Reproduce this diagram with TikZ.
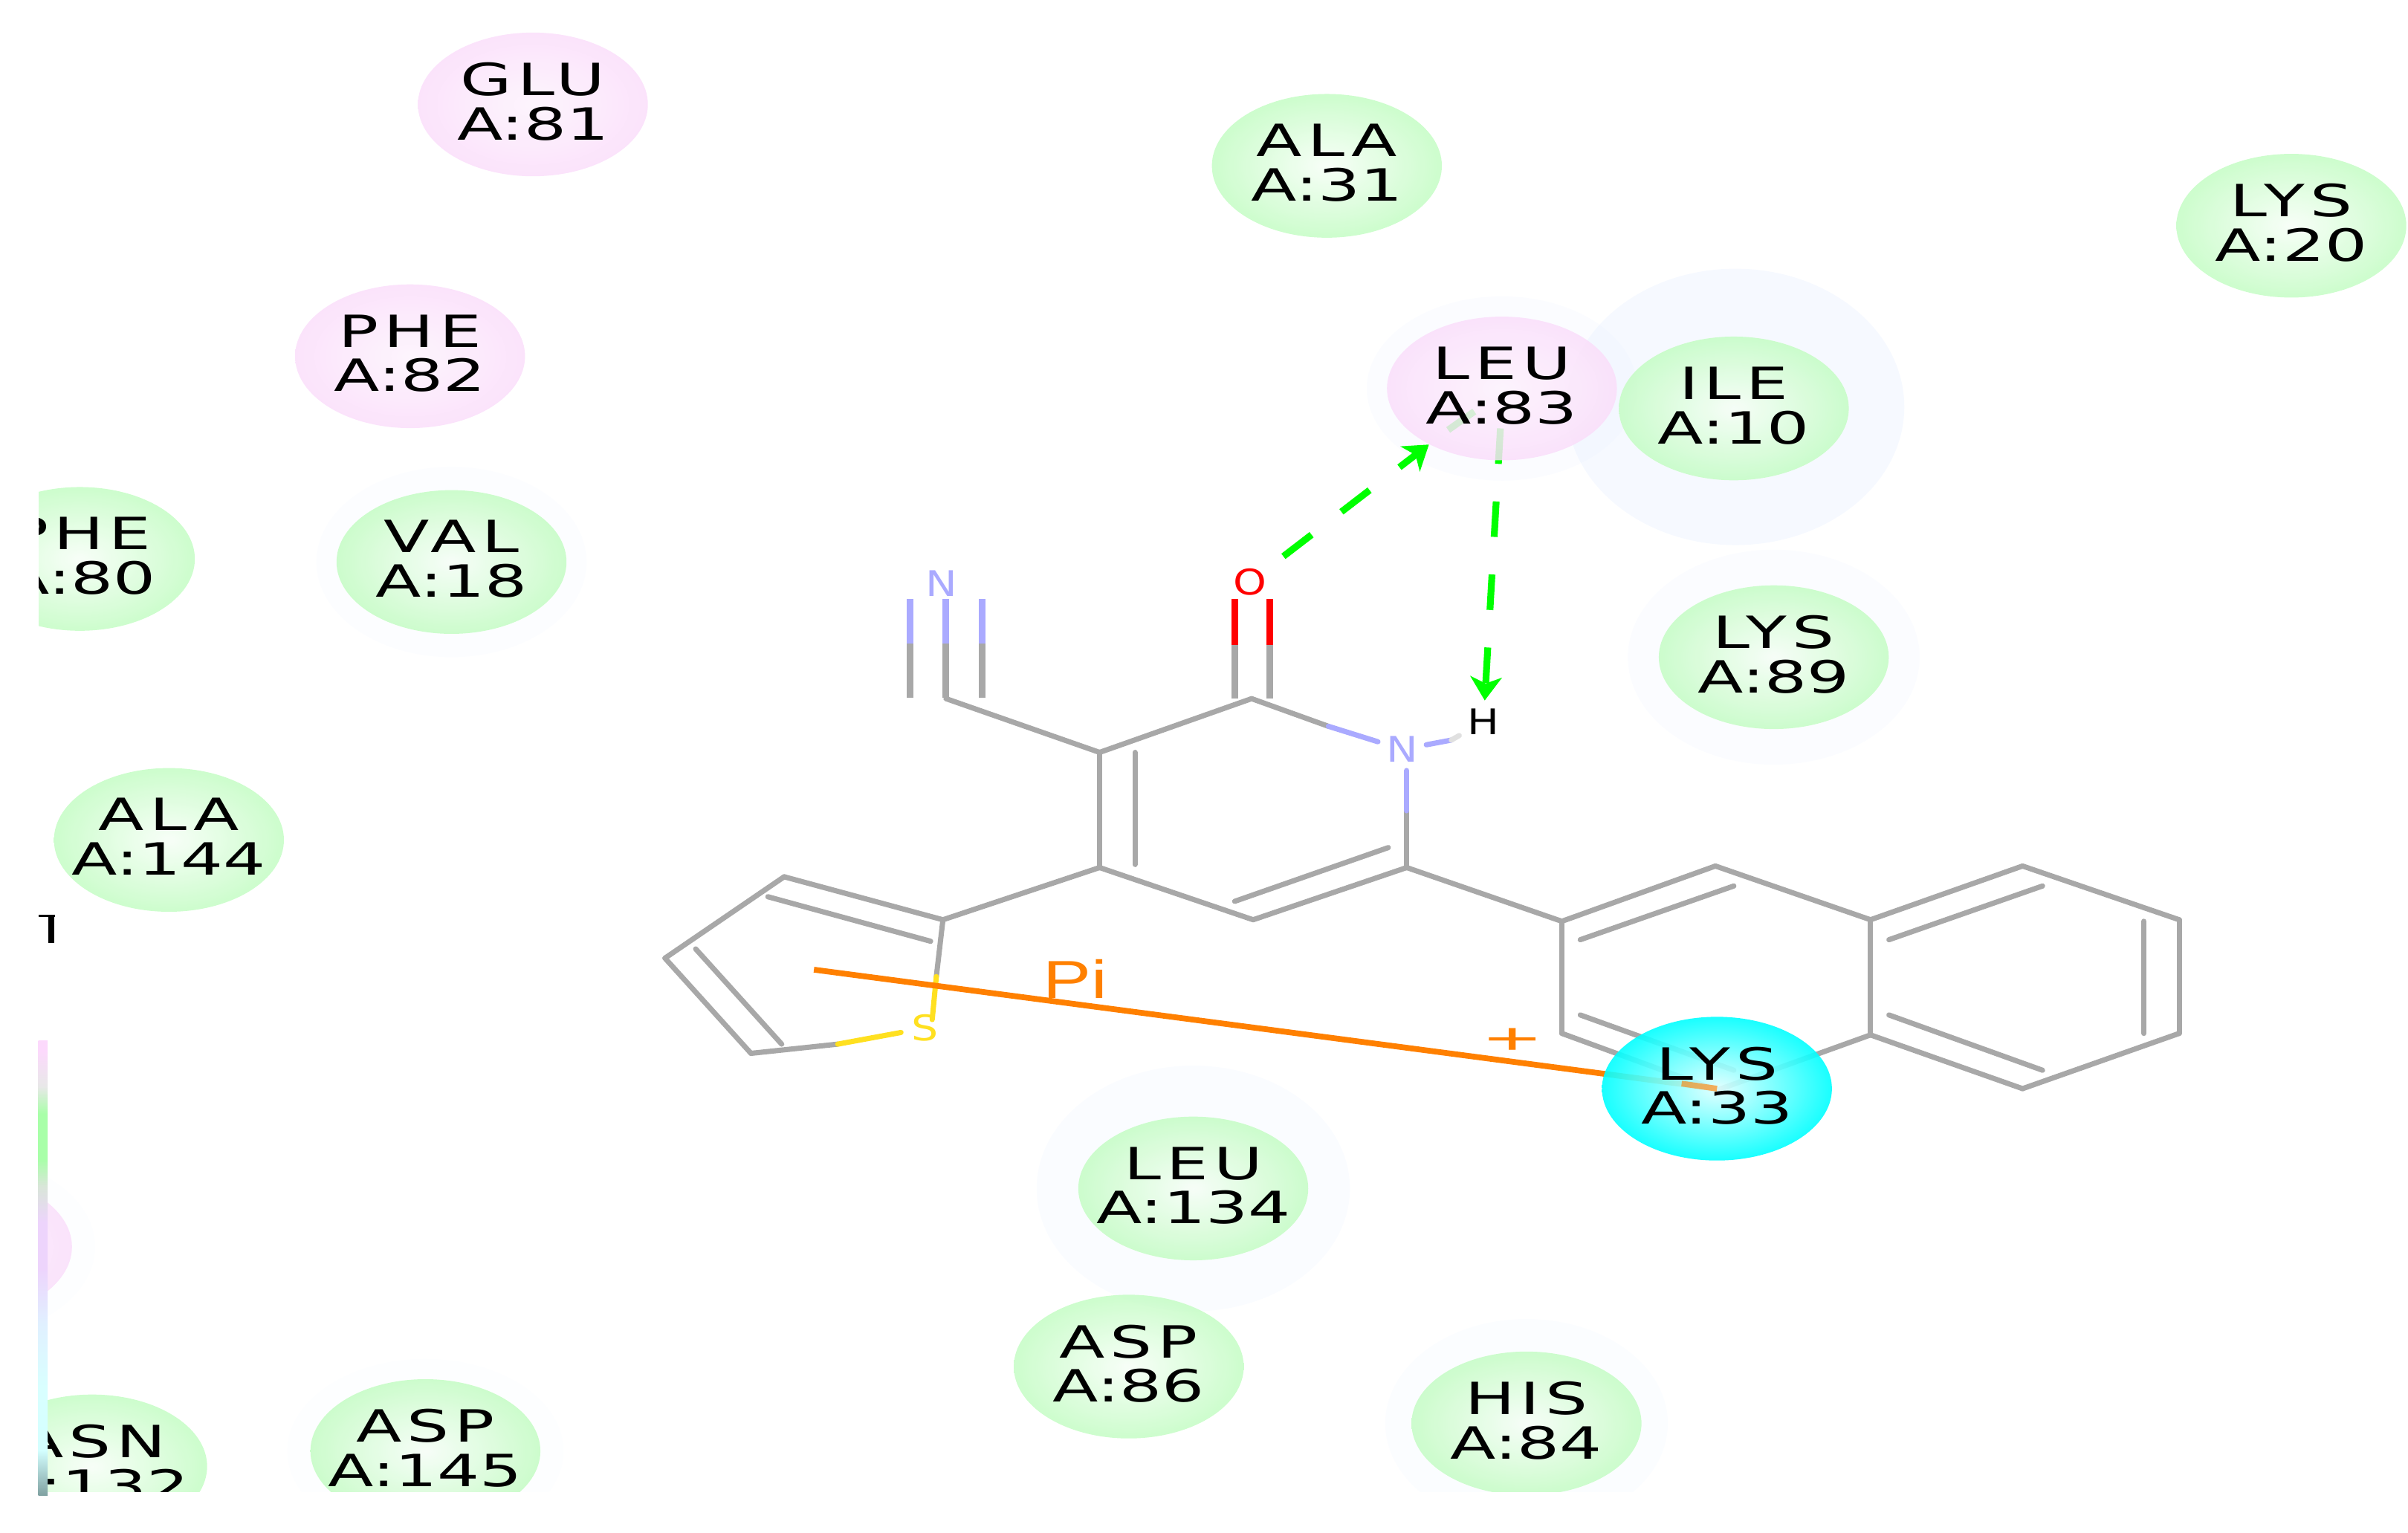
\documentclass[tikz,border=0pt]{standalone}
\usepackage{fontspec}
\usepackage{tikz}
\usetikzlibrary{arrows.meta,shapes.geometric}
\newfontfamily\resfont[FakeStretch=1.5]{DejaVu Sans}
\newfontfamily\resnamefont[FakeStretch=1.5,LetterSpace=12]{DejaVu Sans}
\newfontfamily\atomfont[FakeStretch=1.2]{DejaVu Sans}
\newfontfamily\pifont[FakeStretch=1.35]{Liberation Sans}
\definecolor{bondgray}{HTML}{A8A8A8}
\definecolor{nblue}{HTML}{AAAAFF}
\definecolor{oxred}{HTML}{FF0000}
\definecolor{syellow}{HTML}{FFE020}
\definecolor{hgreen}{HTML}{00FF00}
\definecolor{piorange}{HTML}{FF8000}
\definecolor{halocol}{HTML}{DCE8FF}
\definecolor{resgreen}{HTML}{C4FDC4}
\definecolor{respale}{HTML}{F6FEF6}
\definecolor{respink}{HTML}{FADEFA}
\definecolor{respalepink}{HTML}{FDF3FD}
\pgfdeclareverticalshading{legendbar}{100bp}{
	rgb(0bp)=(.50,.63,.63); rgb(25bp)=(.50,.63,.63);
	rgb(30bp)=(.83,1,1); rgb(37bp)=(.85,1,1); rgb(44bp)=(.88,.94,1);
	rgb(50bp)=(.93,.83,.99); rgb(55bp)=(.93,.83,.99);
	rgb(59bp)=(.85,.90,.85); rgb(62bp)=(.66,1,.66); rgb(67bp)=(.66,1,.66);
	rgb(70bp)=(.91,.91,.91); rgb(74bp)=(.99,.85,.99); rgb(75bp)=(.99,.85,.99);
	rgb(100bp)=(.99,.85,.99)}
\pgfdeclarelayer{halo}
\pgfdeclarelayer{back}
\pgfsetlayers{halo,back,main}
\tikzset{
	resnode/.style={ellipse,minimum width=88pt,minimum height=55pt,inner sep=-12pt,
		align=center,fill opacity=.85,text opacity=1,
		font=\resfont\fontsize{17}{17}\selectfont},
	greenres/.style={resnode,inner color=respale,outer color=resgreen},
	pinkres/.style={resnode,inner color=respalepink,outer color=respink},
	cyanres/.style={resnode,fill opacity=.9,inner color=cyan!12!white,outer color=cyan},
	atomlab/.style={inner sep=3pt,font=\atomfont\fontsize{13.5}{14}\selectfont},
	bond/.style={bondgray,line width=2pt,line cap=round},
	vbond/.style={bond,line width=2.5pt,line cap=butt},
	hbond/.style={hgreen,line width=2.6pt,dash pattern=on 13.6pt off 14.4pt,
		-{Stealth[length=9pt,width=12pt,inset=2.5pt]}},
	piline/.style={piorange,line width=2.2pt},
}
\newcommand{\reslabel}[2]{{\resnamefont #1}\\A:#2\rule[-2.4pt]{0pt}{0pt}}
\begin{document}
\begin{tikzpicture}[x=.5877pt,y=-.5877pt]
	\useasboundingbox (0,0) rectangle (1568,998);
	% halos
	\begin{pgfonlayer}{halo}
		\foreach \x/\y/\rx/\ry/\op in {1130/265/110/90/.25,978/253/88/60/.12,1155/428/95/70/.12,
			777/774/102/80/.14,994/927/92/68/.1,294/366/88/62/.08,277/945/90/60/.05,-28/812/90/60/.05}
			\fill [halocol,opacity=\op] (\x,\y) ellipse [x radius=\rx,y radius=\ry];
	\end{pgfonlayer}
	% residues
	\foreach \nm/\num/\x/\y in {ALA/31/864/108,LYS/20/1492/147,ILE/10/1129/266,
		PHE/80/52/364,VAL/18/294/366,LYS/89/1155/428,ALA/144/110/547,LEU/134/777/774,
		ASP/86/735/890,HIS/84/994/927,ASN/132/60/955,ASP/145/277/945}
		\node [greenres] (\nm\num) at (\x,\y) {\reslabel{\nm}{\num}};
	\foreach \nm/\num/\x/\y in {GLU/81/347/68,PHE/82/267/232,LEU/83/978/253}
		\node [pinkres] (\nm\num) at (\x,\y) {\reslabel{\nm}{\num}};
	\node [pinkres] (edgeres) at (-28,812) {};
	\node [cyanres] (LYS33) at (1118,709) {\reslabel{LYS}{33}};
	% atoms
	\node [atomlab,oxred] (atomO) at (814,379) {O};
	\node [atomlab,nblue] (atomN) at (913,488) {N};
	\node [atomlab,nblue] (atomNb) at (613,380) {N};
	\node [atomlab] (atomH) at (966,470) {H};
	\node [atomlab,syellow,inner sep=1pt] (atomS) at (602.5,669.5) {S};
	\node [font=\pifont\fontsize{20.5}{22}\selectfont,piorange,inner sep=0pt] (pilab) at (700,637.5) {Pi};
	\node [font=\pifont\fontsize{17}{18}\selectfont,piorange,inner sep=0pt] (pluslab) at (985,678) {\scalebox{1.6}[1]{+}};
	% molecule
	\begin{pgfonlayer}{back}
		% carbons
		\foreach \c/\x/\y in {c2/815/455,c3/716/490,c4/716/565,c5/816/599,c6/916/565,
			cn/616/455,t1/614/599,t2/510.6/571,t3/433/624,t4/489/686,
			a1/1017/600,a2/1117/564,a3/1218/599,a4/1218/674,a5/1118/710,a6/1017/673,
			b1/1317/564,b2/1419/599,b3/1419/673,b4/1317/709,pic/530/631.5,
			smid/609.7/636,stop/607/664,hstart/977/279,ofar/943/280,ofarb/960/268}
			\coordinate (\c) at (\x,\y);
		\foreach \a/\b in {c3/c2,c4/c5,c5/c6,c3/cn,c4/t1,t1/t2,t2/t3,t3/t4,c6/a1,
			a1/a2,a2/a3,a3/a4,a4/a5,a5/a6,a6/a1,a3/b1,b1/b2,b2/b3,b3/b4,b4/a4,c3/c4}
			\draw [bond] (\a) -- (\b);
		% inner lines of double bonds
		\foreach \xa/\ya/\xb/\yb in {739/490/739/563,804/587/904/552,500/584/606/613,
			453/618/509/680,1029/612/1129/577,1230/612/1330/577,1396/600/1396/673,
			1230/661/1330/697,1029/661/1129/697}
			\draw [bond] (\xa,\ya) -- (\xb,\yb);
		% hetero bonds
		\draw [bond] (c2) -- (865,473);
		\draw [bond,nblue] (865,473) -- (atomN);
		\draw [bond] (c6) -- (916,528);
		\draw [bond,nblue] (916,528) -- (c6 |- atomN.south);
		\draw [bond,nblue] (atomN) -- (945,482);
		\draw [bond,black!12] (945,482) -- (atomH);
		\foreach \d in {-11,12} {
			\draw [vbond] (815+\d,455) -- (815+\d,420);
			\draw [vbond,oxred] (815+\d,420) -- (815+\d,390);
		}
		\foreach \d in {592.5,616,639.5} {
			\draw [vbond] (\d,454.6) -- (\d,419);
			\draw [vbond,nblue] (\d,419) -- (\d,390);
		}
		\draw [bond] (t1) -- (smid);
		\draw [bond,syellow] (smid) -- (stop);
		\draw [bond] (t4) -- (545.5,680);
		\draw [bond,syellow,shorten >=3pt] (545.5,680) -- (atomS);
		% interactions
		\draw [hbond,shorten <=4pt] (atomO) -- (LEU83);
		\draw [hbond,-] (ofar) -- (ofarb);
		\draw [hbond] (hstart) -- (atomH);
		\draw [piline] (pic) -- (LYS33.center);
	\end{pgfonlayer}
	\draw [piline,opacity=.6] (1095,705.7) -- (LYS33.center);
	% edges of the picture
	\fill [white] (-130,-10) rectangle (25,1010);
	\fill [white] (-130,972) rectangle (1568,1010);
	\draw [line width=1pt] (25,596.5) -- (36,596.5);
	\draw [line width=2.4pt] (33.5,596) -- (33.5,614);
	\shade [shading=legendbar] (25,678) rectangle (31,974);
\end{tikzpicture}
\end{document}
